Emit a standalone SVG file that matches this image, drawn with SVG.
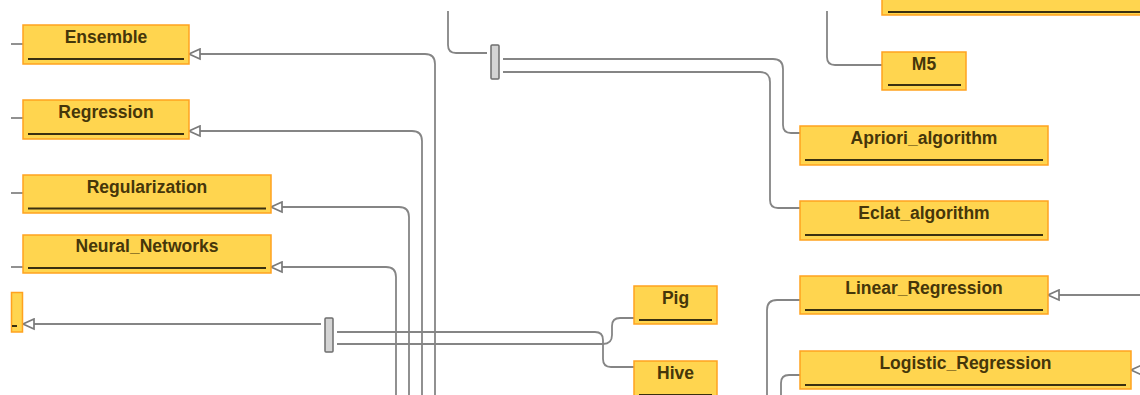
<svg xmlns="http://www.w3.org/2000/svg" width="1140" height="395" viewBox="0 0 1140 395">
<style>
.box{fill:#FFD54F;stroke:#FFA21F;stroke-width:1.5}
.ul{stroke:#3a3010;stroke-width:2}
.lbl{font-family:"Liberation Sans",Arial,sans-serif;font-weight:bold;font-size:17.5px;fill:#45360a;text-anchor:middle}
.ln{fill:none;stroke:#858585;stroke-width:1.8}
.arr{marker-end:url(#tri)}
.bar{fill:#d4d4d4;stroke:#6e6e6e;stroke-width:1.5}
</style>
<defs>
<marker id="tri" viewBox="0 0 13 13" refX="12" refY="6.5" markerWidth="13" markerHeight="13" markerUnits="userSpaceOnUse" orient="auto">
<path d="M1,1.5 L12,6.5 L1,11.5 Z" fill="#fff" stroke="#7a7a7a" stroke-width="1.7"/>
</marker>
</defs>
<g id="connectors">
<path class="ln" d="M11,44 H23"/>
<path class="ln" d="M11,118 H23"/>
<path class="ln" d="M11,193 H23"/>
<path class="ln" d="M11,267 H23"/>
<path class="ln arr" d="M435,395 V64 Q435,54 425,54 H189"/>
<path class="ln arr" d="M422,395 V141 Q422,131 412,131 H189"/>
<path class="ln arr" d="M409,395 V217 Q409,207 399,207 H271"/>
<path class="ln arr" d="M396,395 V277 Q396,267 386,267 H271"/>
<path class="ln arr" d="M321,324 H23"/>
<path class="ln" d="M337,332 H595 Q603,332 603,340 V359 Q603,367 611,367 H634"/>
<path class="ln" d="M337,344 H603 Q612,344 612,335 V326 Q612,318 620,318 H634"/>
<path class="ln" d="M448,11 V45 Q448,53 456,53 H487"/>
<path class="ln" d="M827,11 V57 Q827,65 835,65 H882"/>
<path class="ln" d="M503,59 H773 Q783,59 783,69 V125 Q783,133 791,133 H800"/>
<path class="ln" d="M503,72 H760 Q770,72 770,82 V200 Q770,208 778,208 H800"/>
<path class="ln arr" d="M1140,295 H1048"/>
<path class="ln arr" d="M1145,370 H1131"/>
<path class="ln" d="M800,300 H777 Q767,300 767,310 V395"/>
<path class="ln" d="M800,375 H789 Q781,375 781,383 V395"/>
</g>
<g id="bar1"><rect class="bar" x="325" y="318" width="8" height="34" rx="1"/></g>
<g id="bar2"><rect class="bar" x="491" y="45" width="8" height="34" rx="1"/></g>
<g id="node-partial-left"><rect class="box" x="11.5" y="292.5" width="11" height="39.5"/><line class="ul" x1="12" y1="326" x2="17" y2="326"/></g>
<g id="node-ensemble"><rect class="box" x="23" y="25" width="166" height="39"/><line class="ul" x1="28" y1="59" x2="184" y2="59"/><text class="lbl" x="106" y="43">Ensemble</text></g>
<g id="node-regression"><rect class="box" x="23" y="100" width="166" height="39"/><line class="ul" x1="28" y1="134" x2="184" y2="134"/><text class="lbl" x="106" y="118">Regression</text></g>
<g id="node-regularization"><rect class="box" x="23" y="175" width="248" height="38"/><line class="ul" x1="28" y1="208.5" x2="266" y2="208.5"/><text class="lbl" x="147" y="193">Regularization</text></g>
<g id="node-neural"><rect class="box" x="23" y="235" width="248" height="38"/><line class="ul" x1="28" y1="268" x2="266" y2="268"/><text class="lbl" x="147" y="252">Neural_Networks</text></g>
<g id="node-top-right"><rect class="box" x="882" y="-25" width="270" height="40"/><line class="ul" x1="888" y1="12" x2="1145" y2="12"/></g>
<g id="node-m5"><rect class="box" x="882" y="52" width="84" height="38"/><line class="ul" x1="888" y1="85" x2="961" y2="85"/><text class="lbl" x="924" y="69.5">M5</text></g>
<g id="node-apriori"><rect class="box" x="800" y="126" width="248" height="39"/><line class="ul" x1="805" y1="160" x2="1043" y2="160"/><text class="lbl" x="924" y="144">Apriori_algorithm</text></g>
<g id="node-eclat"><rect class="box" x="800" y="201" width="248" height="39"/><line class="ul" x1="805" y1="235" x2="1043" y2="235"/><text class="lbl" x="924" y="219">Eclat_algorithm</text></g>
<g id="node-pig"><rect class="box" x="634" y="286" width="83" height="38"/><line class="ul" x1="639" y1="320" x2="712" y2="320"/><text class="lbl" x="675.5" y="304">Pig</text></g>
<g id="node-hive"><rect class="box" x="634" y="361" width="83" height="39"/><line class="ul" x1="639" y1="395" x2="712" y2="395"/><text class="lbl" x="675.5" y="379">Hive</text></g>
<g id="node-linear"><rect class="box" x="800" y="276" width="248" height="38"/><line class="ul" x1="805" y1="310" x2="1043" y2="310"/><text class="lbl" x="924" y="294">Linear_Regression</text></g>
<g id="node-logistic"><rect class="box" x="800" y="351" width="331" height="38"/><line class="ul" x1="805" y1="385" x2="1126" y2="385"/><text class="lbl" x="965.5" y="369">Logistic_Regression</text></g>
</svg>
